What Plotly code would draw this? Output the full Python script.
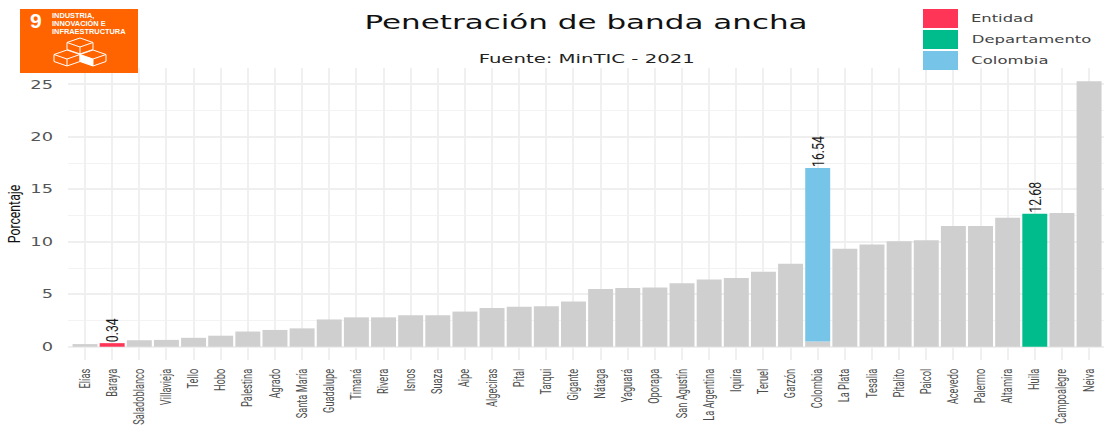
import plotly.graph_objects as go

municipios = ["Elías", "Baraya", "Saladoblanco", "Villavieja", "Tello", "Hobo", "Palestina", "Agrado",
              "Santa María", "Guadalupe", "Timaná", "Rivera", "Isnos", "Suaza", "Aipe", "Algeciras",
              "Pital", "Tarqui", "Gigante", "Nátaga", "Yaguará", "Oporapa", "San Agustín", "La Argentina",
              "Iquira", "Teruel", "Garzón", "Colombia", "La Plata", "Tesalia", "Pitalito", "Paicol",
              "Acevedo", "Palermo", "Altamira", "Huila", "Campoalegre", "Neiva"]
valores = [0.25, None, 0.62, 0.65, 0.85, 1.05, 1.45, 1.6,
           1.75, 2.6, 2.8, 2.8, 3.0, 3.0, 3.35, 3.7,
           3.8, 3.85, 4.3, 5.5, 5.6, 5.65, 6.05, 6.4,
           6.55, 7.15, 7.9, 0.5, 9.35, 9.75, 10.05, 10.15,
           11.5, 11.5, 12.3, None, 12.75, 25.3]
entidad = ["Baraya"]
entidad_valor = [0.34]
departamento = ["Huila"]
departamento_valor = [12.68]
pais = ["Colombia"]
pais_valor = [16.54]
pais_base = [0.5]

GRIS, ROJO, VERDE, AZUL = "#CFCFCF", "#FF3557", "#00BC8D", "#76C5E8"
NARROW = "Roboto"
W, H, ML, MR, MT, MB = 1104, 425, 68, 0, 68, 65


def px(x):
    return (x - ML) / (W - ML - MR)


def py(y):
    return (H - MB - y) / (H - MT - MB)


fig = go.Figure()
fig.add_bar(x=municipios, y=valores, marker_color=GRIS, marker_line_width=0, width=0.92)
for xs, ys, color, base in [(entidad, entidad_valor, ROJO, None),
                            (departamento, departamento_valor, VERDE, None),
                            (pais, pais_valor, AZUL, pais_base)]:
    fig.add_bar(x=xs, y=ys, base=base, marker_color=color, marker_line_width=0, width=0.92,
                text=[f"{v:.2f}" for v in ys], textposition="outside", textangle=-90,
                constraintext="none", cliponaxis=False,
                textfont=dict(family=NARROW, size=17, color="#1a1a1a"))

shapes = [dict(type="rect", xref="paper", yref="paper", x0=px(20), x1=px(138), y0=py(73), y1=py(9),
               fillcolor="#FF6400", line_width=0, layer="above")]


def cubo(cx, ty, w=13, h=4.5, d=7, lado=None):
    pts = [(cx, ty), (cx + w, ty + h), (cx + w, ty + h + d), (cx, ty + 2 * h + d), (cx - w, ty + h + d), (cx - w, ty + h)]
    borde = "M" + " L".join(f"{px(a):.5f},{py(b):.5f}" for a, b in pts) + " Z"
    tapa = f"M{px(cx - w):.5f},{py(ty + h):.5f} L{px(cx):.5f},{py(ty + 2 * h):.5f} L{px(cx + w):.5f},{py(ty + h):.5f} " \
           f"M{px(cx):.5f},{py(ty + 2 * h):.5f} L{px(cx):.5f},{py(ty + 2 * h + d):.5f}"
    out = [dict(type="path", path=borde, xref="paper", yref="paper", fillcolor="#FF6400",
                line=dict(color="white", width=1), layer="above")]
    if lado:
        izq = f"M{px(cx - w):.5f},{py(ty + h):.5f} L{px(cx):.5f},{py(ty + 2 * h):.5f} L{px(cx):.5f},{py(ty + 2 * h + d):.5f} L{px(cx - w):.5f},{py(ty + h + d):.5f} Z"
        out.append(dict(type="path", path=izq, xref="paper", yref="paper", fillcolor="white", line_width=0, layer="above"))
    out.append(dict(type="path", path=tapa, xref="paper", yref="paper", line=dict(color="white", width=1), layer="above"))
    return out


shapes += cubo(80, 38) + cubo(67, 50) + cubo(93, 50, lado=True)

for top, color in [(9, ROJO), (30, VERDE), (51, AZUL)]:
    shapes.append(dict(type="rect", xref="paper", yref="paper", x0=px(923), x1=px(958), y0=py(top + 19), y1=py(top),
                       fillcolor=color, line_width=0, layer="above"))


def nota(texto, x, y, size, color, fam="DejaVu Sans", anchor="center", bold=False):
    return dict(text=f"<b>{texto}</b>" if bold else texto, xref="paper", yref="paper", x=px(x), y=py(y), showarrow=False,
                xanchor=anchor, yanchor="middle", font=dict(family=fam, size=size, color=color))


annotations = [
    nota("Fuente: MinTIC - 2021", 586, 58, 12.7, "#222222"),
    nota("Entidad", 1002, 18, 10.6, "#444444"),
    nota("Departamento", 1031, 39, 10.6, "#444444"),
    nota("Colombia", 1010, 60, 10.6, "#444444"),
    nota("9", 35.5, 20, 21, "white", fam="Liberation Sans", bold=True),
    nota("INDUSTRIA,", 50, 15.5, 7.4, "white", fam="Liberation Sans", anchor="left", bold=True),
    nota("INNOVACIÓN E", 50, 23.5, 7.4, "white", fam="Liberation Sans", anchor="left", bold=True),
    nota("INFRAESTRUCTURA", 50, 31.5, 7.4, "white", fam="Liberation Sans", anchor="left", bold=True),
]

fig.update_layout(
    width=W, height=H, autosize=False, barmode="overlay", showlegend=False,
    margin=dict(l=ML, r=MR, t=MT, b=MB, pad=0),
    paper_bgcolor="white", plot_bgcolor="white",
    title=dict(text="Penetración de banda ancha", x=586 / W, xanchor="center", y=1 - 22 / H, yanchor="middle",
               font=dict(family="DejaVu Sans", size=20, color="#111111")),
    shapes=shapes, annotations=annotations,
    xaxis=dict(type="category", categoryorder="array", categoryarray=municipios, range=[-0.627, 37.55],
               automargin=False, showgrid=True, gridcolor="#F0F0F0", gridwidth=2, zeroline=False, showline=False,
               ticks="", tickangle=-90, ticklabelstandoff=5, tickmode="array", tickvals=municipios,
               tickfont=dict(family=NARROW, size=14, color="#4d4d4d")),
    yaxis=dict(range=[-1.265, 26.57], tickvals=[0, 5, 10, 15, 20, 25], automargin=False, showgrid=True,
               gridcolor="#EFEFEF", gridwidth=1.5, zeroline=False, showline=False, ticks="", ticklabelstandoff=14,
               minor=dict(tickvals=[2.5, 7.5, 12.5, 17.5, 22.5], showgrid=True, gridcolor="#F3F3F3", gridwidth=1),
               tickfont=dict(family="DejaVu Sans", size=11.5, color="#555555"),
               title=dict(text="Porcentaje", standoff=13, font=dict(family=NARROW, size=17, color="#111111"))),
)

# The reference image is stretched sideways: wide texts run long, rotated texts run short.
post = """
document.body.style.margin = '0';
document.documentElement.style.overflow = 'hidden';
var ajusta = function (sel, f) {
  document.querySelectorAll(sel).forEach(function (t) {
    if (t.hasAttribute('textLength')) return;
    if (t.style.fontFamily.indexOf('Liberation') >= 0) return;
    var L = t.getComputedTextLength();
    t.setAttribute('lengthAdjust', 'spacingAndGlyphs');
    t.setAttribute('textLength', L * f);
    if (t.classList.contains('bartext')) t.setAttribute('dx', -(L * (1 - f) / 2 + 2));
  });
};
var estira = function () {
  ajusta('.gtitle, .annotation-text, .ytick text', 1.55);
  ajusta('.ytitle, .bartext', 0.72);
  ajusta('.xtick text', 0.66);
};
estira();
document.getElementById('{plot_id}').on('plotly_afterplot', estira);
"""
fig.write_html("out.html", post_script=post, config={"displayModeBar": False})
